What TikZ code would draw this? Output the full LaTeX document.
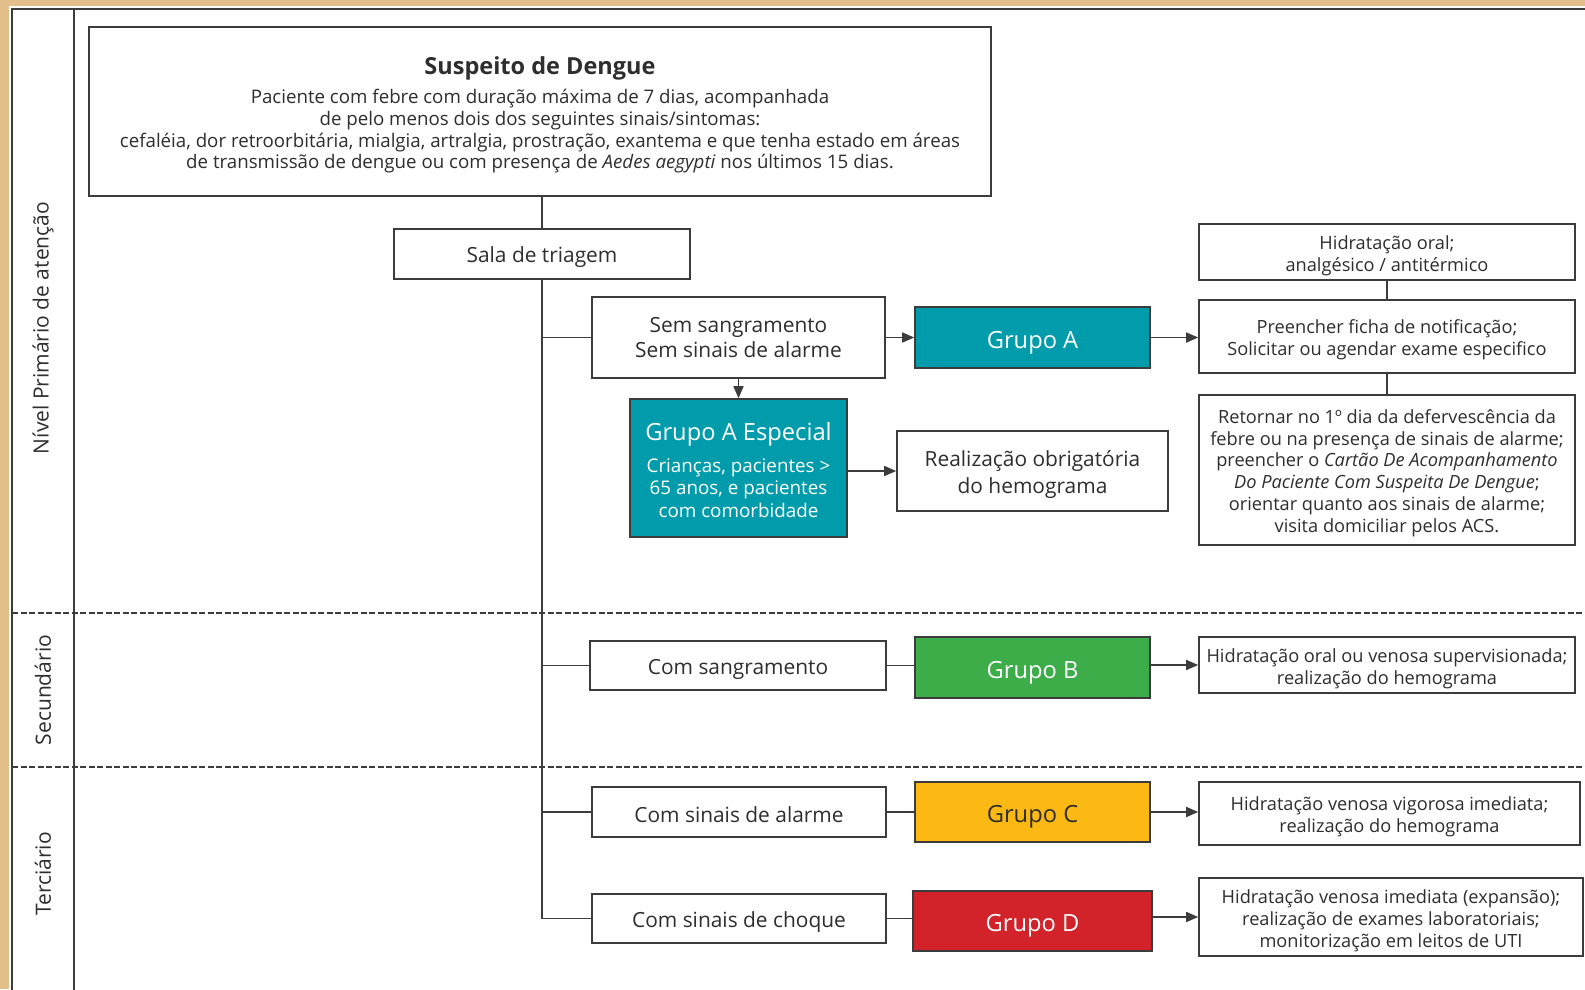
\documentclass[tikz,border=0pt]{standalone}
\usepackage{fontspec}
\setmainfont{Open Sans}
\usetikzlibrary{arrows.meta}
\definecolor{moldura}{HTML}{E2BF8A}
\definecolor{linha}{HTML}{3C3C3C}
\definecolor{texto}{HTML}{2E2E2E}
\definecolor{corA}{HTML}{009CAB}
\definecolor{corB}{HTML}{3DAD4A}
\definecolor{corC}{HTML}{FDB913}
\definecolor{corD}{HTML}{D2232A}
\tikzset{
  desce/.style={execute at begin node={\rule{0pt}{#1}}},
  caixa/.style={draw=linha, line width=1.6pt, fill=white, text=texto, align=center, inner sep=2pt},
  grupo/.style={draw=linha, line width=1.6pt, text=white, align=center, inner sep=2pt,
    font=\fontsize{23.7}{28}\selectfont, desce=27.5pt},
  liga/.style={draw=linha, line width=1.6pt},
  seta/.style={liga, -{Triangle[length=12pt,width=10pt]}},
  nivel/.style={rotate=90, text=texto, font=\fontsize{21}{24}\selectfont},
  fmed/.style={font=\fontsize{20.9}{25}\selectfont},
  umalinha/.style={fmed, desce=22pt},
  fpeq/.style={font=\fontsize{18.2}{21.8}\selectfont}
}

\begin{document}
\begin{tikzpicture}[x=1pt,y=-1pt]
		%%%%% START %%%%%
		\useasboundingbox (0,0) rectangle (1585,989);
		\fill[moldura] (0,0) rectangle (1585,989);
		\fill[white] (9,6) rectangle (1585,989);
		
		% quadro e colunas
		\draw[linha, line width=2pt] (12,995) -- (12,9) -- (1590,9);
		\draw[linha, line width=1.8pt] (74,9) -- (74,995);
		\draw[linha, line width=1.2pt, dash pattern=on 6pt off 2.5pt] (12,613) -- (1590,613);
		\draw[linha, line width=1.2pt, dash pattern=on 6pt off 2.5pt] (12,767) -- (1590,767);
		
		\node[nivel] (nprim) at (43,328) {Nível Primário de atenção};
		\node[nivel] (nsec) at (43,690) {Secundário};
		\node[nivel] (nter) at (43,874) {Terciário};
		
		% caso suspeito e triagem
		\node[caixa, minimum width=902pt, minimum height=169pt, font=\fontsize{18.7}{21.8}\selectfont] (susp) at (540,111.5)
		  {\rule{0pt}{25pt}{\fontsize{23.5}{30}\selectfont\bfseries Suspeito de Dengue}\\[7pt]
		   Paciente com febre com duração máxima de 7 dias, acompanhada\\
		   de pelo menos dois dos seguintes sinais/sintomas:\\
		   cefaléia, dor retroorbitária, mialgia, artralgia, prostração, exantema e que tenha estado em áreas\\
		   de transmissão de dengue ou com presença de \textit{Aedes aegypti} nos últimos 15 dias.};
		\node[caixa, umalinha, minimum width=296pt, minimum height=50pt] (sala) at (542,254) {Sala de triagem};
		
		% grupo A
		\node[caixa, fmed, minimum width=293pt, minimum height=81pt] (sem) at (738.5,337.5) {Sem sangramento\\Sem sinais de alarme};
		\node[grupo, fill=corA, minimum width=235pt, minimum height=61pt] (grA) at (1032.5,337.5) {Grupo A};
		\node[caixa, fpeq, minimum width=376pt, minimum height=56pt] (hidA) at (1387,252) {\rule{0pt}{21pt}Hidratação oral;\\analgésico / antitérmico};
		\node[caixa, fpeq, minimum width=376pt, minimum height=73pt] (preA) at (1387,336.5) {\rule{0pt}{20pt}Preencher ficha de notificação;\\Solicitar ou agendar exame especifico};
		\node[caixa, fpeq, minimum width=376pt, minimum height=150pt] (retA) at (1387,470)
		  {\rule{0pt}{20pt}Retornar no 1º dia da defervescência da\\febre ou na presença de sinais de alarme;\\
		   preencher o \textit{Cartão De Acompanhamento}\\\textit{Do Paciente Com Suspeita De Dengue};\\
		   orientar quanto aos sinais de alarme;\\visita domiciliar pelos ACS.};
		\node[grupo, fill=corA, desce=0pt, minimum width=217pt, minimum height=138pt, font=\fontsize{18.8}{22.5}\selectfont] (esp) at (738.5,468)
		  {\rule{0pt}{22pt}{\fontsize{23.7}{30}\selectfont Grupo A Especial}\\[9pt]Crianças, pacientes >\\65 anos, e pacientes\\com comorbidade};
		\node[caixa, font=\fontsize{20.9}{27.5}\selectfont, minimum width=271pt, minimum height=80pt] (realiz) at (1032.5,471) {\rule{0pt}{23pt}Realização obrigatória\\do hemograma};
		
		% grupos B, C e D
		\node[caixa, umalinha, minimum width=296pt, minimum height=49pt] (comsang) at (738,665.5) {Com sangramento};
		\node[grupo, fill=corB, minimum width=235pt, minimum height=61pt] (grB) at (1032.5,667.5) {Grupo B};
		\node[caixa, fpeq, minimum width=376pt, minimum height=56pt] (hidB) at (1387,665) {\rule{0pt}{21pt}Hidratação oral ou venosa supervisionada;\\realização do hemograma};
		
		\node[caixa, umalinha, minimum width=294pt, minimum height=50pt] (alarme) at (739,812) {Com sinais de alarme};
		\node[grupo, fill=corC, text=texto, minimum width=235pt, minimum height=60pt] (grC) at (1032.5,812) {Grupo C};
		\node[caixa, fpeq, minimum width=381pt, minimum height=63pt] (hidC) at (1389.5,813.5) {\rule{0pt}{21pt}Hidratação venosa vigorosa imediata;\\realização do hemograma};
		
		\node[caixa, umalinha, minimum width=294pt, minimum height=49pt] (choque) at (739,918.5) {Com sinais de choque};
		\node[grupo, fill=corD, minimum width=239pt, minimum height=60pt] (grD) at (1032.5,921) {Grupo D};
		\node[caixa, fpeq, minimum width=384pt, minimum height=78pt] (hidD) at (1391,917) {\rule{0pt}{21pt}Hidratação venosa imediata (expansão);\\realização de exames laboratoriais;\\monitorização em leitos de UTI};
		
		% ligacoes
		\draw[liga] (susp.south -| sala.north) -- (sala.north);
		\draw[liga] (sala.south) |- (choque.west);
		\draw[liga] (sala.south |- sem.west) -- (sem.west);
		\draw[liga] (sala.south |- comsang.west) -- (comsang.west);
		\draw[liga] (sala.south |- alarme.west) -- (alarme.west);
		
		\draw[seta] (sem.east) -- (grA.west);
		\draw[seta] (sem.south -| esp.north) -- (esp.north);
		\draw[seta] (grA.east) -- (grA.east -| preA.west);
		\draw[liga] (hidA.south) -- (preA.north);
		\draw[liga] (preA.south) -- (retA.north);
		\draw[seta] (esp.east |- realiz.west) -- (realiz.west);
		
		\draw[liga] (comsang.east) -- (comsang.east -| grB.west);
		\draw[seta] (grB.east |- hidB.west) -- (hidB.west);
		\draw[liga] (alarme.east) -- (grC.west);
		\draw[seta] (grC.east) -- (grC.east -| hidC.west);
		\draw[liga] (choque.east) -- (choque.east -| grD.west);
		\draw[seta] (grD.east |- hidD.west) -- (hidD.west);
		%%%%% END %%%%%
\end{tikzpicture}
\end{document}
